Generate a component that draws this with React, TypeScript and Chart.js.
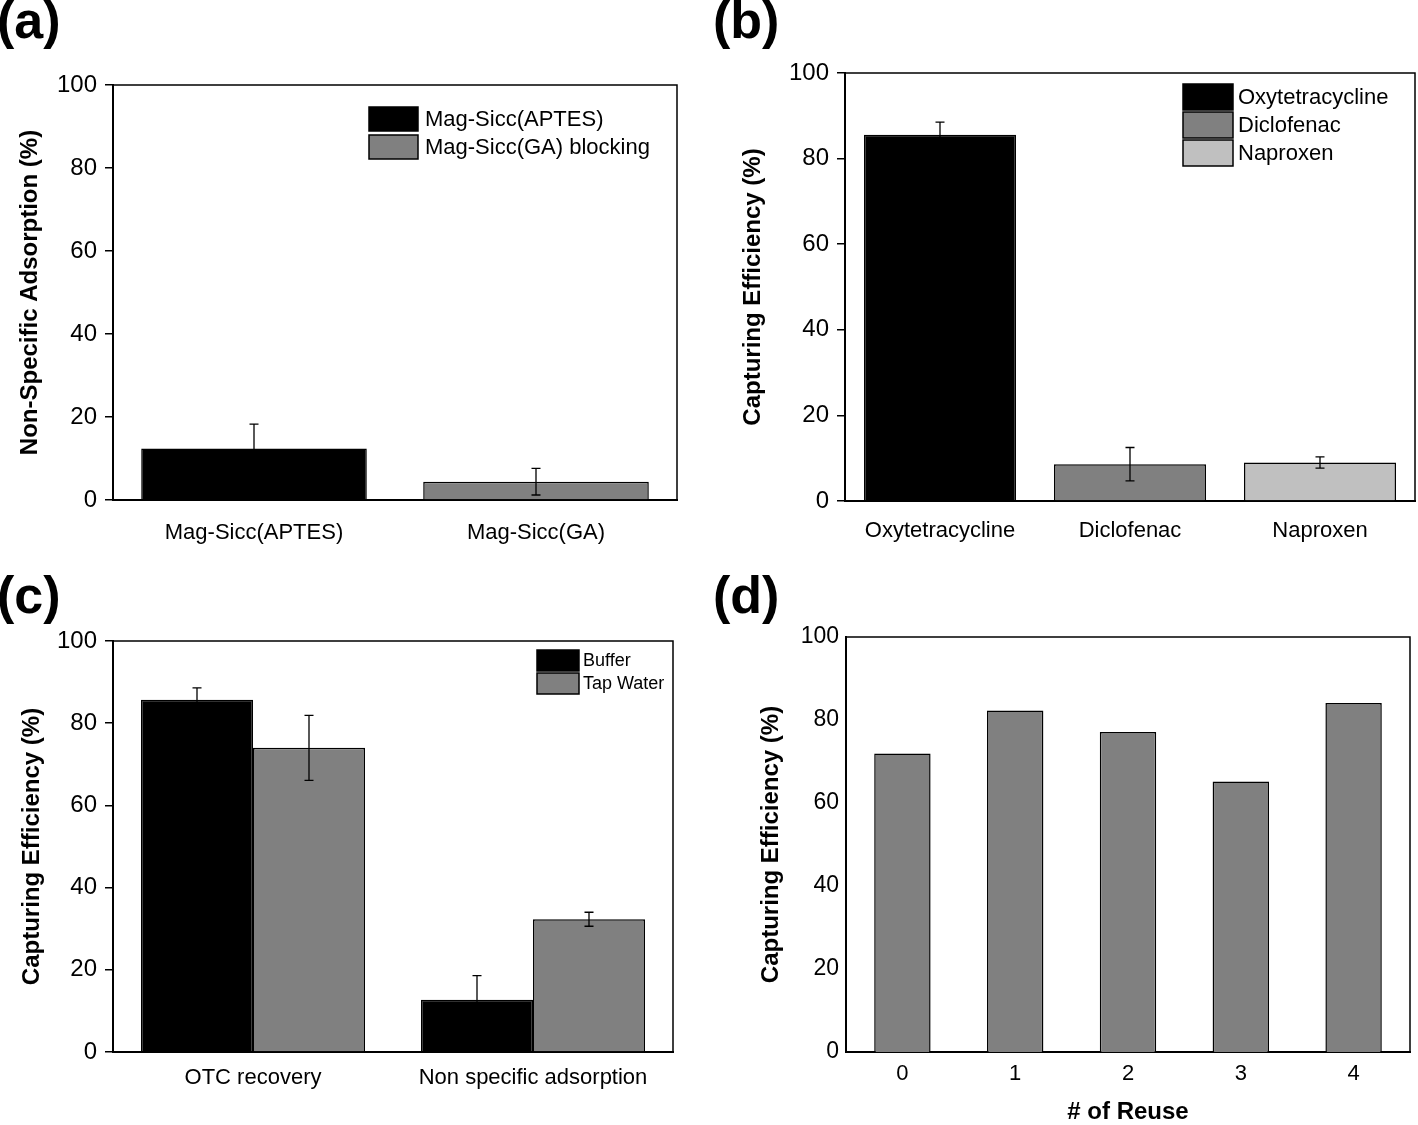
import React, { useEffect, useRef } from "react";
import { Chart, registerables } from "chart.js";

Chart.register(...registerables);
Chart.defaults.font.family = "'Liberation Sans', Arial, sans-serif";
Chart.defaults.color = "#000";

// ---------- DATA ----------
// Panel (a)
const aCategories = ["Mag-Sicc(APTES)", "Mag-Sicc(GA)"];
const aLegendLabels = ["Mag-Sicc(APTES)", "Mag-Sicc(GA) blocking"];
const aValues = [12.4, 4.4];
const aErrors = [5.9, 3.2];

// Panel (b)
const bCategories = ["Oxytetracycline", "Diclofenac", "Naproxen"];
const bValues = [85.6, 8.6, 9.0];
const bErrors = [2.9, 3.9, 1.3];

// Panel (c)
const cCategories = ["OTC recovery", "Non specific adsorption"];
const cSeriesNames = ["Buffer", "Tap Water"];
const cBuffer = [85.7, 12.7];
const cBufferErr = [2.9, 5.9];
const cTap = [74.0, 32.3];
const cTapErr = [7.9, 1.7];

// Panel (d)
const dCategories = ["0", "1", "2", "3", "4"];
const dValues = [71.9, 82.3, 77.1, 65.2, 84.1];

// Axis labels
const yTitleA = "Non-Specific Adsorption (%)";
const yTitleCE = "Capturing Efficiency (%)";
const xTitleD = "# of Reuse";
const yMin = 0;
const yMax = 100;
const yStep = 20;

// ---------- STYLE ----------
const BLACK = "#000000";
const GRAY = "#808080";
const LIGHT = "#c0c0c0";

// ---------- PLUGINS ----------
const framePlugin = {
  id: "frame",
  afterDraw(chart: any) {
    const { ctx, chartArea: a } = chart;
    ctx.save();
    ctx.strokeStyle = "#000";
    ctx.lineWidth = 1.5;
    ctx.beginPath();
    ctx.moveTo(a.left, a.top);
    ctx.lineTo(a.right, a.top);
    ctx.lineTo(a.right, a.bottom);
    ctx.stroke();
    ctx.restore();
  },
};

const errorBarsPlugin = {
  id: "errorBars",
  afterDatasetsDraw(chart: any) {
    const ctx = chart.ctx;
    const ys = chart.scales.y;
    chart.data.datasets.forEach((ds: any, i: number) => {
      const errs = ds.errors;
      if (!errs) return;
      const meta = chart.getDatasetMeta(i);
      meta.data.forEach((el: any, j: number) => {
        const v = ds.data[j];
        const e = errs[j];
        if (e == null) return;
        const x = el.x;
        const yt = ys.getPixelForValue(v + e);
        const yb = ys.getPixelForValue(v - e);
        ctx.save();
        ctx.strokeStyle = "#000";
        ctx.lineWidth = 1.3;
        ctx.beginPath();
        ctx.moveTo(x, yt);
        ctx.lineTo(x, yb);
        ctx.moveTo(x - 4.5, yt);
        ctx.lineTo(x + 4.5, yt);
        ctx.moveTo(x - 4.5, yb);
        ctx.lineTo(x + 4.5, yb);
        ctx.stroke();
        ctx.restore();
      });
    });
  },
};

type LegendSpec = {
  labels: string[];
  colors: string[];
  dx: number;
  dy: number;
  boxW: number;
  boxH: number;
  rowH: number;
  gap: number;
  fontSize: number;
};

function makeLegendPlugin(spec: LegendSpec | null) {
  return {
    id: "insideLegend",
    afterDraw(chart: any) {
      if (!spec) return;
      const { ctx, chartArea: a } = chart;
      ctx.save();
      spec.labels.forEach((label, k) => {
        const x0 = a.right - spec.dx;
        const y0 = a.top + spec.dy + k * spec.rowH;
        ctx.fillStyle = spec.colors[k];
        ctx.fillRect(x0, y0, spec.boxW, spec.boxH);
        ctx.strokeStyle = "#000";
        ctx.lineWidth = 1.5;
        ctx.strokeRect(x0, y0, spec.boxW, spec.boxH);
        ctx.fillStyle = "#000";
        ctx.font = `${spec.fontSize}px 'Liberation Sans', Arial, sans-serif`;
        ctx.textAlign = "left";
        ctx.textBaseline = "middle";
        ctx.fillText(label, x0 + spec.boxW + spec.gap, y0 + spec.boxH / 2 + 1);
      });
      ctx.restore();
    },
  };
}

type Box = { left: number; top: number; width: number; height: number };
type Area = { l: number; r: number; t: number; b: number };

type PanelSpec = {
  box: Box;
  area: Area;
  labels: string[];
  datasets: any[];
  yTitle: string;
  yTitlePad: number;
  yTickSize: number;
  yTickPad: number;
  yTicks: boolean;
  xTickPad: number;
  xTitle?: string;
  xTitlePad?: number;
  legend: LegendSpec | null;
};

function makeConfig(p: PanelSpec): any {
  const yWidth = p.area.l - p.box.left;
  const xHeight = p.box.top + p.box.height - p.area.b;
  return {
    type: "bar",
    data: { labels: p.labels, datasets: p.datasets },
    options: {
      responsive: false,
      animation: false,
      events: [],
      layout: {
        padding: {
          top: p.area.t - p.box.top,
          right: p.box.left + p.box.width - p.area.r,
          left: 0,
          bottom: 0,
        },
      },
      plugins: {
        legend: { display: false },
        tooltip: { enabled: false },
        title: { display: false },
      },
      scales: {
        x: {
          type: "category",
          grid: { display: false, drawTicks: false },
          border: { display: true, color: "#000", width: 2 },
          ticks: {
            color: "#000",
            font: { size: 22 },
            padding: p.xTickPad,
            maxRotation: 0,
            minRotation: 0,
            autoSkip: false,
          },
          title: p.xTitle
            ? {
                display: true,
                text: p.xTitle,
                color: "#000",
                font: { size: 24, weight: "bold", lineHeight: 1 },
                padding: { top: 0, bottom: p.xTitlePad || 0 },
              }
            : { display: false },
          afterFit: (s: any) => {
            s.height = xHeight;
          },
        },
        y: {
          min: yMin,
          max: yMax,
          ticks: {
            stepSize: yStep,
            color: "#000",
            font: { size: p.yTickSize },
            padding: p.yTickPad,
          },
          grid: {
            display: p.yTicks,
            drawOnChartArea: false,
            drawTicks: p.yTicks,
            tickLength: 8,
            color: "#000",
            lineWidth: 1.5,
          },
          border: { display: true, color: "#000", width: 2 },
          title: {
            display: true,
            text: p.yTitle,
            color: "#000",
            font: { size: 24, weight: "bold", lineHeight: 1.2 },
            padding: { top: p.yTitlePad, bottom: 0 },
          },
          afterFit: (s: any) => {
            s.width = yWidth;
          },
        },
      },
    },
    plugins: [framePlugin, errorBarsPlugin, makeLegendPlugin(p.legend)],
  };
}

const barCommon = {
  borderColor: "#000",
  borderWidth: 1.5,
  barPercentage: 1.0,
};

const panelA: PanelSpec = {
  box: { left: 0, top: 40, width: 700, height: 520 },
  area: { l: 113, r: 677, t: 85, b: 500 },
  labels: aCategories,
  datasets: [
    {
      ...barCommon,
      label: aLegendLabels[0],
      data: aValues,
      errors: aErrors,
      backgroundColor: [BLACK, GRAY],
      categoryPercentage: 0.8,
    },
  ],
  yTitle: yTitleA,
  yTitlePad: 16,
  yTickSize: 24,
  yTickPad: 8,
  yTicks: true,
  xTickPad: 20,
  legend: {
    labels: aLegendLabels,
    colors: [BLACK, GRAY],
    dx: 308,
    dy: 22,
    boxW: 49,
    boxH: 24,
    rowH: 28,
    gap: 7,
    fontSize: 22,
  },
};

const panelB: PanelSpec = {
  box: { left: 710, top: 30, width: 708, height: 530 },
  area: { l: 845, r: 1415, t: 73, b: 501 },
  labels: bCategories,
  datasets: [
    {
      ...barCommon,
      label: "Capturing",
      data: bValues,
      errors: bErrors,
      backgroundColor: [BLACK, GRAY, LIGHT],
      categoryPercentage: 0.8,
    },
  ],
  yTitle: yTitleCE,
  yTitlePad: 29,
  yTickSize: 24,
  yTickPad: 8,
  yTicks: true,
  xTickPad: 17,
  legend: {
    labels: bCategories,
    colors: [BLACK, GRAY, LIGHT],
    dx: 232,
    dy: 11,
    boxW: 50,
    boxH: 26,
    rowH: 28,
    gap: 5,
    fontSize: 22,
  },
};

const panelC: PanelSpec = {
  box: { left: 0, top: 600, width: 700, height: 525 },
  area: { l: 113, r: 673, t: 641, b: 1052 },
  labels: cCategories,
  datasets: [
    {
      ...barCommon,
      label: cSeriesNames[0],
      data: cBuffer,
      errors: cBufferErr,
      backgroundColor: BLACK,
      categoryPercentage: 0.8,
    },
    {
      ...barCommon,
      label: cSeriesNames[1],
      data: cTap,
      errors: cTapErr,
      backgroundColor: GRAY,
      categoryPercentage: 0.8,
    },
  ],
  yTitle: yTitleCE,
  yTitlePad: 18,
  yTickSize: 24,
  yTickPad: 8,
  yTicks: true,
  xTickPad: 13,
  legend: {
    labels: cSeriesNames,
    colors: [BLACK, GRAY],
    dx: 136,
    dy: 9,
    boxW: 42,
    boxH: 21,
    rowH: 23,
    gap: 4,
    fontSize: 18,
  },
};

const panelD: PanelSpec = {
  box: { left: 710, top: 600, width: 708, height: 525 },
  area: { l: 846, r: 1410, t: 637, b: 1052 },
  labels: dCategories,
  datasets: [
    {
      ...barCommon,
      label: "Reuse",
      data: dValues,
      backgroundColor: GRAY,
      categoryPercentage: 0.5,
    },
  ],
  yTitle: yTitleCE,
  yTitlePad: 47,
  yTickSize: 23,
  yTickPad: 7,
  yTicks: false,
  xTickPad: 9,
  xTitle: xTitleD,
  xTitlePad: 1,
  legend: null,
};

function ChartPanel({ spec }: { spec: PanelSpec }) {
  const ref = useRef<HTMLCanvasElement | null>(null);
  useEffect(() => {
    if (!ref.current) return;
    const chart = new Chart(ref.current, makeConfig(spec));
    return () => chart.destroy();
  }, [spec]);
  const b = spec.box;
  return (
    <div
      style={{
        position: "absolute",
        left: b.left,
        top: b.top,
        width: b.width,
        height: b.height,
      }}
    >
      <canvas
        ref={ref}
        width={b.width}
        height={b.height}
        style={{ width: b.width, height: b.height, display: "block" }}
      />
    </div>
  );
}

const panelLabelStyle: React.CSSProperties = {
  position: "absolute",
  fontFamily: "'Liberation Sans', Arial, sans-serif",
  fontWeight: "bold",
  fontSize: 52,
  lineHeight: 1,
  color: "#000",
  whiteSpace: "nowrap",
};

export default function App() {
  return (
    <div
      style={{
        position: "absolute",
        left: 0,
        top: 0,
        width: 1418,
        height: 1125,
        background: "#fff",
        overflow: "hidden",
      }}
    >
      <ChartPanel spec={panelA} />
      <ChartPanel spec={panelB} />
      <ChartPanel spec={panelC} />
      <ChartPanel spec={panelD} />
      <div style={{ ...panelLabelStyle, left: -3, top: -6 }}>(a)</div>
      <div style={{ ...panelLabelStyle, left: 713, top: -6 }}>(b)</div>
      <div style={{ ...panelLabelStyle, left: -3, top: 569 }}>(c)</div>
      <div style={{ ...panelLabelStyle, left: 713, top: 569 }}>(d)</div>
    </div>
  );
}
